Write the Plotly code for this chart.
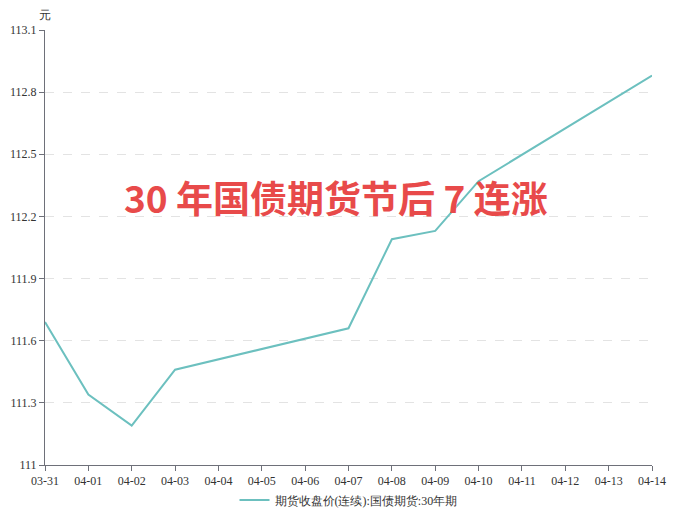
import plotly.graph_objects as go

dates = ['03-31', '04-01', '04-02', '04-03', '04-04', '04-05', '04-06', '04-07',
         '04-08', '04-09', '04-10', '04-11', '04-12', '04-13', '04-14']
close_price = [111.69, 111.34, 111.19, 111.46, None, None, None, 111.66,
               112.09, 112.13, 112.37, None, None, None, 112.88]
y_ticks = [111, 111.3, 111.6, 111.9, 112.2, 112.5, 112.8, 113.1]

serif = 'Liberation Serif'
axis_grey = '#6e7079'

fig = go.Figure()
fig.add_trace(go.Scatter(
    x=dates, y=close_price, mode='lines', connectgaps=True,
    name='期货收盘价(连续):国债期货:30年期',
    line=dict(color='#6cc0bf', width=2),
))

# page body has an 8px margin, so shift the plot area up/left by 8px
fig.update_layout(
    width=700, height=511,
    margin=dict(l=37, r=56, t=22, b=54),
    paper_bgcolor='white', plot_bgcolor='white',
    font=dict(family=serif, size=12, color='#333'),
    showlegend=True,
    legend=dict(orientation='h', x=0.5, xanchor='center', xref='paper',
                y=0.037, yanchor='middle', yref='container',
                font=dict(family=serif, size=12, color='#333')),
    annotations=[
        dict(text='元', x=0, y=1.0345, xref='paper', yref='paper', showarrow=False,
             xanchor='center', yanchor='middle', font=dict(size=12, color='#333', family=serif)),
        dict(text='<b>30 年国债期货节后 7 连涨</b>', x=0.479, y=0.616, xref='paper', yref='paper',
             showarrow=False, xanchor='center', yanchor='middle',
             font=dict(family='Noto Sans CJK SC', size=37, color='#e84a4a')),
    ],
)

fig.update_xaxes(
    type='category', range=[0, 14], showgrid=False, zeroline=False, automargin=False,
    showline=True, linecolor=axis_grey, linewidth=1,
    ticks='outside', ticklen=5, tickcolor=axis_grey,
    tickfont=dict(family=serif, size=12, color='#333'),
)
fig.update_yaxes(
    range=[111, 113.1], tickvals=y_ticks, ticktext=[f'{v:g}' for v in y_ticks],
    showgrid=True, gridcolor='#e3e3e3', griddash='dash', zeroline=False, automargin=False,
    showline=True, linecolor=axis_grey, linewidth=1,
    ticks='outside', ticklen=5, tickcolor=axis_grey,
    tickfont=dict(family=serif, size=12, color='#333'),
)

fig.write_html('out.html')
